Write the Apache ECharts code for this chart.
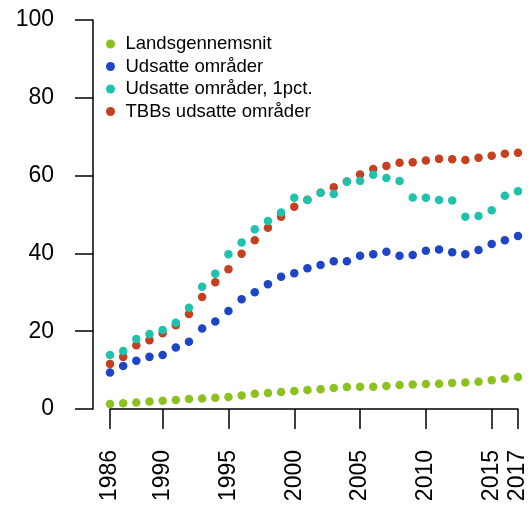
<!DOCTYPE html>
<html>
<head>
<meta charset="utf-8">
<script src="https://cdn.jsdelivr.net/npm/echarts@6/dist/echarts.min.js"></script>
<style>
  html, body { margin: 0; padding: 0; background: #fff; }
  #chart { width: 532px; height: 507px; }
</style>
</head>
<body>
<div id="chart"></div>
<script>
var years = [1986, 1987, 1988, 1989, 1990, 1991, 1992, 1993, 1994, 1995, 1996,
  1997, 1998, 1999, 2000, 2001, 2002, 2003, 2004, 2005, 2006, 2007, 2008, 2009,
  2010, 2011, 2012, 2013, 2014, 2015, 2016, 2017];
var yearTicks = [1986, 1990, 1995, 2000, 2005, 2010, 2015, 2017];
var yTicks = [0, 20, 40, 60, 80, 100];

var landsgennemsnit = [1.3, 1.45, 1.7, 1.9, 2.1, 2.3, 2.6, 2.7, 2.9, 3.1, 3.5,
  3.9, 4.1, 4.4, 4.6, 4.9, 5.1, 5.4, 5.65, 5.7, 5.7, 5.9, 6.2, 6.3,
  6.4, 6.5, 6.7, 6.8, 7.0, 7.4, 7.8, 8.2];
var udsatte = [9.4, 11.05, 12.4, 13.4, 13.9, 15.8, 17.3, 20.7, 22.5, 25.2, 28.2,
  30.0, 32.1, 34.0, 34.9, 36.2, 37.0, 38.0, 38.0, 39.4, 39.8, 40.4, 39.4, 39.6,
  40.7, 41.0, 40.3, 39.8, 40.9, 42.4, 43.4, 44.5];
var udsatte1pct = [13.9, 14.9, 18.0, 19.3, 20.3, 22.2, 26.0, 31.4, 34.8, 39.8, 42.8,
  46.2, 48.3, 50.5, 54.3, 53.7, 55.6, 55.3, 58.4, 58.6, 60.2, 59.4, 58.6, 54.4,
  54.3, 53.7, 53.6, 49.4, 49.6, 51.1, 54.8, 56.0];
var tbbUdsatte = [11.6, 13.4, 16.4, 17.7, 19.5, 21.5, 24.4, 28.8, 32.6, 35.9, 39.9,
  43.4, 46.6, 49.4, 52.0, 53.8, 55.6, 57.0, 58.5, 60.3, 61.7, 62.5, 63.3, 63.4,
  63.9, 64.3, 64.2, 64.0, 64.6, 65.1, 65.6, 65.9];

var names = ["Landsgennemsnit", "Udsatte områder", "Udsatte områder, 1pct.", "TBBs udsatte områder"];
var colors = ["#8cc21f", "#1d45c5", "#1fc3ad", "#c4401f"];

function pairs(vals) {
  return years.map(function (y, i) { return [y, vals[i]]; });
}

function pointSeries(idx, vals) {
  return {
    name: names[idx],
    type: "scatter",
    symbol: "circle",
    symbolSize: 8.5,
    itemStyle: { color: colors[idx], opacity: 1 },
    emphasis: { disabled: true },
    data: pairs(vals)
  };
}

var font = "'Liberation Sans', Arial, sans-serif";
var chart = echarts.init(document.getElementById("chart"));

var option = {
  animation: false,
  backgroundColor: "#fff",
  grid: { left: 110, right: 14, top: 20, bottom: 98, containLabel: false },
  legend: {
    orient: "vertical",
    left: 101,
    top: 29,
    itemWidth: 20,
    itemHeight: 9,
    itemGap: 2.5,
    icon: "circle",
    data: names,
    textStyle: { fontFamily: font, fontSize: 18.5, color: "#000", lineHeight: 20 }
  },
  xAxis: {
    type: "value",
    min: 1986,
    max: 2017,
    splitLine: { show: false },
    axisLine: { show: true, lineStyle: { color: "#000", width: 1.5 } },
    axisTick: { show: true, length: 20, lineStyle: { color: "#000", width: 1.5 }, customValues: yearTicks },
    axisLabel: {
      customValues: yearTicks,
      formatter: function (v) { return String(v); },
      rotate: 90,
      margin: 41,
      fontFamily: font,
      fontSize: 23,
      color: "#000"
    }
  },
  yAxis: {
    type: "value",
    min: 0,
    max: 100,
    interval: 20,
    offset: 17,
    splitLine: { show: false },
    axisLine: { show: true, lineStyle: { color: "#000", width: 1.5 } },
    axisTick: { show: true, length: 18, lineStyle: { color: "#000", width: 1.5 } },
    axisLabel: {
      customValues: yTicks,
      formatter: function (v) { return String(v); },
      margin: 39,
      fontFamily: font,
      fontSize: 23,
      color: "#000"
    }
  },
  series: [
    pointSeries(0, landsgennemsnit),
    pointSeries(1, udsatte),
    pointSeries(3, tbbUdsatte),
    pointSeries(2, udsatte1pct)
  ]
};

chart.setOption(option);
</script>
</body>
</html>
